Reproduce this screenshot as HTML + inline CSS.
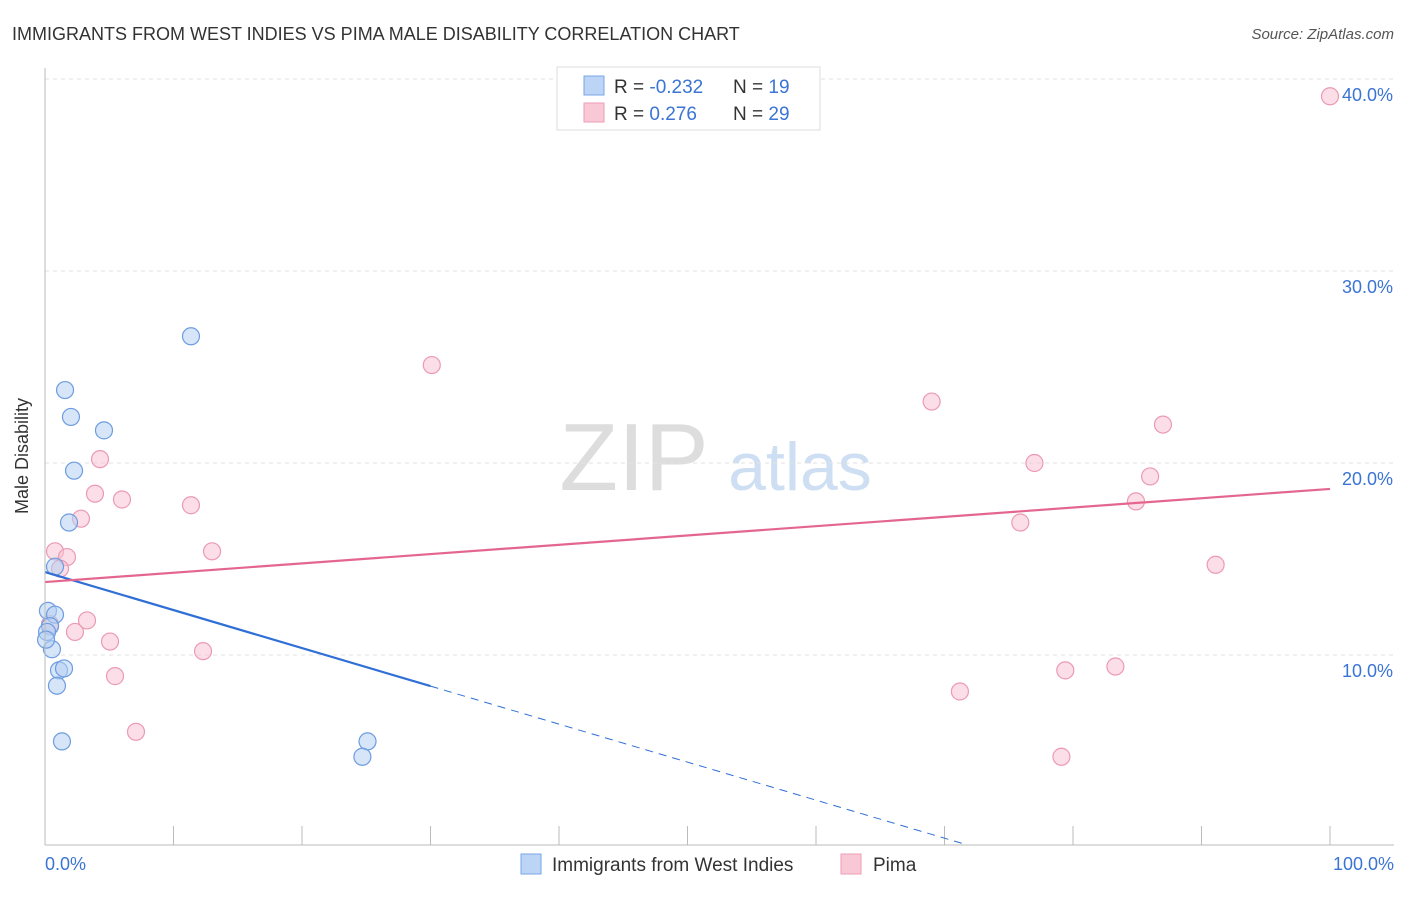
<!DOCTYPE html>
<html><head><meta charset="utf-8"><style>
body{margin:0;background:#fff;font-family:"Liberation Sans",sans-serif;}
svg text{font-family:"Liberation Sans",sans-serif;}
</style></head><body>
<svg width="1406" height="892" id="c">
<text x="12" y="40" font-size="18" fill="#333">IMMIGRANTS FROM WEST INDIES VS PIMA MALE DISABILITY CORRELATION CHART</text>
<text x="1394" y="39" font-size="15" fill="#555" text-anchor="end" font-style="italic">Source: ZipAtlas.com</text>
<text x="28" y="456" font-size="18" fill="#333" text-anchor="middle" transform="rotate(-90 28 456)">Male Disability</text>
<text x="634" y="490" font-size="96" fill="#ddd" font-family="Liberation Serif" text-anchor="middle">ZIP</text>
<text x="800" y="490" font-size="68" fill="#cfdff3" text-anchor="middle">atlas</text>
<g id="grid"></g><g id="marks"></g>
<line x1="45" y1="68" x2="45" y2="845" stroke="#bbb"/>
<line x1="45" y1="845" x2="1394" y2="845" stroke="#bbb"/>
<text x="45" y="870" font-size="18" fill="#3a74d4">0.0%</text>
<text x="1394" y="870" font-size="18" fill="#3a74d4" text-anchor="end">100.0%</text>
<g>
<rect x="557" y="67" width="263" height="63" fill="#fff" stroke="#ddd"/>
<rect x="584" y="76" width="20" height="19" fill="#bcd4f5" stroke="#7aa6e6"/>
<rect x="584" y="103" width="20" height="19" fill="#f9c8d6" stroke="#ee9db5"/>
<text x="614" y="93" font-size="19" fill="#333">R = <tspan fill="#3a74d4">-0.232</tspan></text>
<text x="733" y="93" font-size="19" fill="#333">N = <tspan fill="#3a74d4"> 19</tspan></text>
<text x="614" y="120" font-size="19" fill="#333">R = <tspan fill="#3a74d4"> 0.276</tspan></text>
<text x="733" y="120" font-size="19" fill="#333">N = <tspan fill="#3a74d4">29</tspan></text>
</g>
<g>
<rect x="521" y="854" width="20" height="20" fill="#bcd4f5" stroke="#7aa6e6"/>
<text x="552" y="871" font-size="19" fill="#333">Immigrants from West Indies</text>
<rect x="841" y="854" width="20" height="20" fill="#f9c8d6" stroke="#ee9db5"/>
<text x="873" y="871" font-size="19" fill="#333">Pima</text>
</g>
</svg>
<script>
const yTicks=[10,20,30,40];
const yTickLabels=["10.0%","20.0%","30.0%","40.0%"];
const xTicks=[0,10,20,30,40,50,60,70,80,90,100];
const blueX=[1.56,2.02,4.59,2.26,1.87,0.78,0.23,0.78,0.39,0.16,0.54,1.09,1.48,0.93,1.32,11.36,25.1,24.7,0.08];
const blueY=[23.8,22.4,21.7,19.6,16.9,14.6,12.3,12.1,11.5,11.2,10.3,9.2,9.3,8.4,5.5,26.6,5.5,4.7,10.8];
const pinkX=[100,30.1,69.0,87.0,4.28,77.0,3.89,5.99,11.36,2.80,75.9,86.0,84.9,13.0,0.78,1.71,1.17,91.1,3.27,2.33,5.06,0.39,12.3,5.45,71.2,79.4,83.3,7.08,79.1];
const pinkY=[39.1,25.1,23.2,22.0,20.2,20.0,18.4,18.1,17.8,17.1,16.9,19.3,18.0,15.4,15.4,15.1,14.5,14.7,11.8,11.2,10.7,11.6,10.2,8.9,8.1,9.2,9.4,6.0,4.7];
const blueTrend=[14.32,-0.198];
const pinkTrend=[13.8,0.0485];
const NS="http://www.w3.org/2000/svg";
const X=v=>45+v*12.85, Y=v=>847-v*19.2;
function mk(t,a,p){const e=document.createElementNS(NS,t);for(const k in a)e.setAttribute(k,a[k]);p.appendChild(e);return e;}
const g=document.getElementById('grid'),m=document.getElementById('marks');
yTicks.forEach((t,i)=>{
 const l=mk('line',{x1:45,x2:1394,y1:Y(t),y2:Y(t),stroke:'#e2e2e2','stroke-dasharray':'4,4'},g);
 
 
 const tx=mk('text',{x:1393,y:Y(t)+22,'font-size':18,fill:'#3a74d4','text-anchor':'end'},g);
 tx.textContent=yTickLabels[i];
 
 
});
xTicks.forEach(t=>{
 const l=mk('line',{x1:X(t),x2:X(t),y1:826,y2:845,stroke:'#bbb'},g);
 
 
});
function pts(xs,ys,fill,stroke,name){xs.forEach((x,i)=>{
 const c=mk('circle',{cx:X(x),cy:Y(ys[i]),r:8.5,fill:fill,stroke:stroke,'stroke-width':1.2,'fill-opacity':0.55},m);
 
 
});}
pts(pinkX,pinkY,'#f7c3d3','#ec9ab3','pima-point');
pts(blueX,blueY,'#b5d0f3','#6d9de0','west-indies-point');
const bl=mk('line',{x1:X(0),y1:Y(blueTrend[0]),x2:X(30),y2:Y(blueTrend[0]+blueTrend[1]*30),stroke:'#2f6fd6','stroke-width':2.2},m);


const bd=mk('line',{x1:X(30),y1:Y(blueTrend[0]+blueTrend[1]*30),x2:X(71.6),y2:Y(blueTrend[0]+blueTrend[1]*71.6),stroke:'#2f6fd6','stroke-width':1,'stroke-dasharray':'8,6'},m);


const pl=mk('line',{x1:X(0),y1:Y(pinkTrend[0]),x2:X(100),y2:Y(pinkTrend[0]+pinkTrend[1]*100),stroke:'#e4668f','stroke-width':2.2},m);


</script>
</body></html>
